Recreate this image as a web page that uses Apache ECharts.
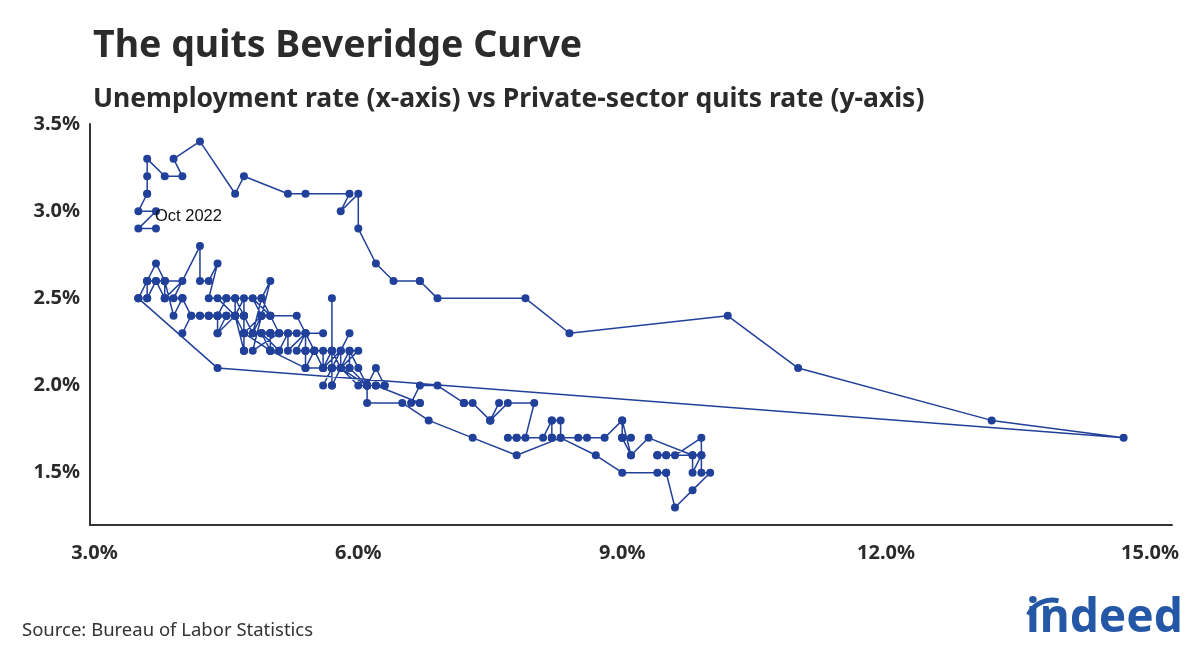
<!DOCTYPE html>
<html>
<head>
<meta charset="utf-8">
<script src="https://cdn.jsdelivr.net/npm/echarts@6/dist/echarts.min.js"></script>
<style>
html,body{margin:0;padding:0;background:#fff;}
#chart{width:1200px;height:655px;}
</style>
</head>
<body>
<div id="chart"></div>
<script>
// Monthly observations, Dec 2000 .. Oct 2022
// Unemployment rate (%)
var unemployment = [
  3.9,
  4.2,4.2,4.3,4.4,4.3,4.5,4.6,4.9,5.0,5.3,5.5,5.7,
  5.7,5.7,5.7,5.9,5.8,5.8,5.8,5.7,5.7,5.7,5.9,6.0,
  5.8,5.9,5.9,6.0,6.1,6.3,6.2,6.1,6.1,6.0,5.8,5.7,
  5.7,5.6,5.8,5.6,5.6,5.6,5.5,5.4,5.4,5.5,5.4,5.4,
  5.3,5.4,5.2,5.2,5.1,5.0,5.0,4.9,5.0,5.0,5.0,4.9,
  4.7,4.8,4.7,4.7,4.6,4.6,4.7,4.7,4.5,4.4,4.5,4.4,
  4.6,4.5,4.4,4.5,4.4,4.6,4.7,4.6,4.7,4.7,4.7,5.0,
  5.0,4.9,5.1,5.0,5.4,5.6,5.8,6.1,6.1,6.5,6.8,7.3,
  7.8,8.3,8.7,9.0,9.4,9.5,9.5,9.6,9.8,10.0,9.9,9.9,
  9.8,9.8,9.9,9.9,9.6,9.4,9.4,9.5,9.5,9.4,9.8,9.3,
  9.1,9.0,9.0,9.1,9.0,9.1,9.0,9.0,9.0,8.8,8.6,8.5,
  8.3,8.3,8.2,8.2,8.2,8.2,8.2,8.1,7.8,7.8,7.7,7.9,
  8.0,7.7,7.5,7.6,7.5,7.5,7.3,7.2,7.2,7.2,6.9,6.7,
  6.6,6.7,6.7,6.2,6.3,6.1,6.2,6.1,5.9,5.7,5.8,5.6,
  5.7,5.5,5.4,5.4,5.6,5.3,5.2,5.1,5.0,5.0,5.1,5.0,
  4.8,4.9,5.0,5.1,4.8,4.9,4.8,4.9,5.0,4.9,4.7,4.7,
  4.7,4.6,4.4,4.4,4.4,4.3,4.3,4.4,4.3,4.2,4.2,4.1,
  4.0,4.1,4.0,4.0,3.8,4.0,3.8,3.8,3.7,3.8,3.8,3.9,
  4.0,3.8,3.8,3.7,3.6,3.6,3.7,3.6,3.5,3.6,3.6,3.6,
  3.5,3.5,4.4,14.7,13.2,11.0,10.2,8.4,7.9,6.9,6.7,6.7,
  6.4,6.2,6.0,6.0,5.8,5.9,5.4,5.2,4.7,4.6,4.2,3.9,
  4.0,3.8,3.6,3.6,3.6,3.6,3.5,3.7,3.5,3.7
];
// Private-sector quits rate (%)
var quits = [
  2.5,
  2.8,2.6,2.6,2.7,2.5,2.5,2.5,2.5,2.4,2.4,2.2,2.2,
  2.5,2.2,2.1,2.3,2.2,2.2,2.1,2.2,2.1,2.0,2.2,2.2,
  2.1,2.1,2.2,2.1,2.0,2.0,2.1,2.0,2.0,2.0,2.1,2.0,
  2.1,2.0,2.2,2.1,2.2,2.1,2.2,2.2,2.1,2.2,2.3,2.2,
  2.2,2.3,2.2,2.3,2.2,2.2,2.3,2.3,2.2,2.3,2.3,2.3,
  2.3,2.3,2.4,2.5,2.4,2.5,2.4,2.4,2.4,2.4,2.5,2.5,
  2.4,2.4,2.4,2.4,2.3,2.4,2.3,2.4,2.2,2.2,2.3,2.2,
  2.2,2.3,2.2,2.2,2.1,2.1,2.1,2.0,1.9,1.9,1.8,1.7,
  1.6,1.7,1.6,1.5,1.5,1.5,1.5,1.3,1.4,1.5,1.5,1.6,
  1.5,1.6,1.6,1.7,1.6,1.6,1.6,1.6,1.6,1.6,1.6,1.7,
  1.6,1.8,1.7,1.7,1.7,1.6,1.7,1.7,1.8,1.7,1.7,1.7,
  1.7,1.8,1.8,1.7,1.7,1.7,1.8,1.7,1.7,1.7,1.7,1.7,
  1.9,1.9,1.8,1.9,1.8,1.8,1.9,1.9,1.9,1.9,2.0,2.0,
  1.9,1.9,1.9,2.0,2.0,2.0,2.0,2.0,2.1,2.1,2.1,2.1,
  2.2,2.2,2.2,2.3,2.3,2.3,2.3,2.3,2.3,2.3,2.3,2.4,
  2.5,2.4,2.4,2.3,2.2,2.4,2.3,2.5,2.6,2.4,2.3,2.2,
  2.4,2.4,2.4,2.3,2.4,2.4,2.4,2.4,2.4,2.4,2.4,2.4,
  2.3,2.4,2.5,2.5,2.5,2.6,2.6,2.6,2.6,2.5,2.6,2.4,
  2.5,2.5,2.6,2.7,2.6,2.5,2.6,2.6,2.5,2.6,2.5,2.6,
  2.5,2.5,2.1,1.7,1.8,2.1,2.4,2.3,2.5,2.5,2.6,2.6,
  2.6,2.7,2.9,3.1,3.0,3.1,3.1,3.1,3.2,3.1,3.4,3.3,
  3.2,3.2,3.3,3.2,3.1,3.1,3.0,3.0,2.9,2.9
];
var xTicks = [3, 6, 9, 12, 15];
var yTicks = [1.5, 2.0, 2.5, 3.0, 3.5];
var lastLabel = 'Oct 2022';

var blue = '#21409a';
var pts = unemployment.map(function (u, i) { return [u, quits[i]]; });
var seriesData = pts.map(function (p, i) {
  if (i === pts.length - 1) {
    return {
      value: p,
      label: {
        show: true, formatter: lastLabel, position: 'right', offset: [-10, -12],
        color: '#111', fontSize: 16.5, fontFamily: 'Liberation Sans'
      }
    };
  }
  return p;
});

var chart = echarts.init(document.getElementById('chart'), null, { renderer: 'canvas' });
chart.setOption({
  backgroundColor: '#fff',
  animation: false,
  title: [
    {
      text: 'The quits Beveridge Curve', left: 88, top: 22,
      textStyle: { fontFamily: 'Noto Sans', fontWeight: 'bold', fontSize: 37.5, color: '#2b2b2b' }
    },
    {
      text: 'Unemployment rate (x-axis) vs Private-sector quits rate (y-axis)', left: 88, top: 81,
      textStyle: { fontFamily: 'Noto Sans', fontWeight: 'bold', fontSize: 26.5, color: '#2b2b2b' }
    }
  ],
  grid: { left: 90, right: 28, top: 124, bottom: 130, containLabel: false },
  xAxis: {
    type: 'value', min: 2.95, max: 15.25,
    axisLine: { show: true, lineStyle: { color: '#333', width: 2 } },
    axisTick: { show: false },
    splitLine: { show: false },
    axisLabel: {
      customValues: xTicks, margin: 18,
      formatter: function (v) { return v.toFixed(1) + '%'; },
      fontFamily: 'Noto Sans', fontWeight: 'bold', fontSize: 20, color: '#2b2b2b'
    }
  },
  yAxis: {
    type: 'value', min: 1.2, max: 3.5,
    axisLine: { show: true, lineStyle: { color: '#333', width: 2 } },
    axisTick: { show: false },
    splitLine: { show: false },
    axisLabel: {
      customValues: yTicks, margin: 10,
      formatter: function (v) { return v.toFixed(1) + '%'; },
      fontFamily: 'Noto Sans', fontWeight: 'bold', fontSize: 20, color: '#2b2b2b'
    }
  },
  series: [{
    type: 'line',
    data: seriesData,
    symbol: 'circle', symbolSize: 8,
    showAllSymbol: true,
    lineStyle: { color: blue, width: 1.5 },
    itemStyle: { color: blue },
    clip: false
  }],
  graphic: [
    {
      type: 'text', left: 22, top: 621,
      style: { text: 'Source: Bureau of Labor Statistics', font: '18.5px "Noto Sans"', fill: '#333' }
    },
    {
      type: 'text', left: 1026, top: 596,
      style: { text: 'indeed', font: 'bold 46px "Noto Sans"', fill: '#2557a7' }
    },
    {
      type: 'arc', shape: { cx: 1052, cy: 626, r: 26, startAngle: -Math.PI * 0.86, endAngle: -Math.PI * 0.42 },
      style: { stroke: '#2557a7', lineWidth: 5, fill: null }
    }
  ]
});
</script>
</body>
</html>
